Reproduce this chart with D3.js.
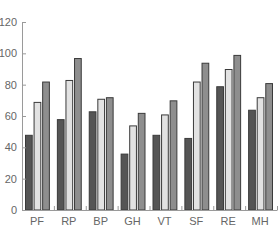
<!DOCTYPE html>
<html>
<head>
<meta charset="utf-8">
<script src="https://cdn.jsdelivr.net/npm/d3@7"></script>
<style>
  body { margin: 0; background: #fff; }
  svg text { font-family: "Liberation Sans", Arial, sans-serif; }
</style>
</head>
<body>
<div id="chart"></div>
<script>
// --- DATA ---
const categories = ["PF", "RP", "BP", "GH", "VT", "SF", "RE", "MH"];
const seriesDark = [48, 58, 63, 36, 48, 46, 79, 64];
const seriesLight = [69, 83, 71, 54, 61, 82, 90, 72];
const seriesMid = [82, 97, 72, 62, 70, 94, 99, 81];
const yTicks = [0, 20, 40, 60, 80, 100, 120];

const series = [
    { values: seriesDark, fill: "#555555" },
    { values: seriesLight, fill: "#e2e2e2" },
    { values: seriesMid, fill: "#8e8e8e" }
];

const W = 280, H = 240;
const margin = { top: 22, right: 3, bottom: 30, left: 22 };
const width = W - margin.left - margin.right;
const height = H - margin.top - margin.bottom;

const svg = d3.select("#chart").append("svg")
    .attr("width", W).attr("height", H)
    .append("g").attr("transform", `translate(${margin.left},${margin.top})`);

const x = d3.scaleBand().domain(categories).range([0, width]).paddingInner(0).paddingOuter(0);
const inner = d3.scaleBand().domain(d3.range(series.length)).range([3, x.bandwidth() - 4]).paddingInner(0.1);
const y = d3.scaleLinear().domain([0, 120]).range([height, 0]);

// bars
const groups = svg.selectAll(".grp").data(categories).join("g")
    .attr("transform", d => `translate(${x(d)},0)`);

groups.selectAll("rect")
    .data((d, i) => series.map((s, j) => ({ j, v: s.values[i], fill: s.fill })))
    .join("rect")
    .attr("x", d => inner(d.j) + 0.5)
    .attr("y", d => y(d.v) + 0.5)
    .attr("width", inner.bandwidth() - 1)
    .attr("height", d => height - y(d.v) - 0.5)
    .attr("fill", d => d.fill)
    .attr("stroke", "#3a3a3a")
    .attr("stroke-width", 1);

// y axis
const yAxis = svg.append("g")
    .call(d3.axisLeft(y).tickValues(yTicks).tickSize(-4).tickPadding(5));
yAxis.select(".domain").attr("stroke", "#9a9a9a");
yAxis.selectAll(".tick line").attr("stroke", "#9a9a9a");
yAxis.selectAll("text").attr("fill", "#666").style("font-size", "11px");

// x axis
const xAxis = svg.append("g").attr("transform", `translate(0,${height})`)
    .call(d3.axisBottom(x).tickSize(0).tickPadding(7));
xAxis.select(".domain").attr("stroke", "#9a9a9a");
xAxis.selectAll("text").attr("fill", "#666").style("font-size", "11px").attr("dx", "-1");

// category boundary ticks
svg.append("g").selectAll("line")
    .data(categories)
    .join("line")
    .attr("x1", d => x(d) + x.bandwidth() + 0.5)
    .attr("x2", d => x(d) + x.bandwidth() + 0.5)
    .attr("y1", height - 4).attr("y2", height)
    .attr("stroke", "#9a9a9a");
</script>
</body>
</html>
